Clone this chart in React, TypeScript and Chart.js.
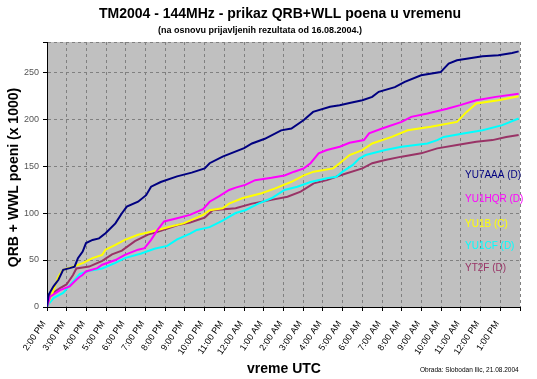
import React, { useEffect, useRef } from 'react';
import { Chart, registerables } from 'chart.js';

Chart.register(...registerables);

const FONT = '"Liberation Sans", Arial, sans-serif';

// x axis: hours since 2:00 PM UTC
const HOUR_LABELS = [
  '2:00 PM', '3:00 PM', '4:00 PM', '5:00 PM', '6:00 PM', '7:00 PM', '8:00 PM', '9:00 PM',
  '10:00 PM', '11:00 PM', '12:00 AM', '1:00 AM', '2:00 AM', '3:00 AM', '4:00 AM', '5:00 AM',
  '6:00 AM', '7:00 AM', '8:00 AM', '9:00 AM', '10:00 AM', '11:00 AM', '12:00 PM', '1:00 PM',
];
const Y_TICKS = [0, 50, 100, 150, 200, 250];

const SERIES_NAMES = ['YU7AAA (D)', 'YU1HQR (D)', 'YU1B (C)', 'YU1CF (D)', 'YT2F (D)'];
const SERIES_COLORS = ['#000080', '#FF00FF', '#FFFF00', '#00FFFF', '#993366'];

const YU7AAA_H = [0, 0.08, 0.33, 0.58, 0.82, 1.15, 1.4, 1.57, 1.81, 1.98, 2.31, 2.64, 2.97, 3.47, 3.8, 4.05, 4.62, 5.03, 5.28, 5.77, 6.6, 7.34, 8.0, 8.25, 8.91, 10.0, 10.4, 11.05, 11.88, 12.4, 13.03, 13.5, 14.36, 14.85, 15.35, 16.0, 16.5, 16.83, 17.65, 18.15, 18.98, 19.97, 20.38, 20.8, 22.1, 22.9, 23.6, 23.93];
const YU7AAA_V = [0, 13, 22, 29, 39.6, 41.4, 43, 52, 59, 68, 71.4, 73, 78.5, 89, 99.8, 106.8, 112, 119, 128, 133, 139, 143, 147.5, 153, 160, 169, 174, 179, 188, 190, 199, 207.6, 213, 214.8, 217, 220, 223.6, 229, 234, 239.5, 246.6, 250, 259, 262.5, 266.8, 267.8, 270.3, 272];

const YU1HQR_H = [0, 0.16, 0.66, 1.15, 1.49, 1.65, 1.8, 1.98, 2.55, 2.8, 3.47, 3.95, 4.62, 4.95, 5.28, 5.61, 5.94, 6.6, 7.25, 7.92, 8.25, 8.74, 9.24, 9.57, 10.06, 10.56, 11.39, 12.05, 12.54, 13.03, 13.37, 13.78, 14.2, 14.85, 15.35, 16.08, 16.34, 17.0, 17.99, 18.48, 19.3, 20.3, 20.96, 21.78, 22.77, 23.93];
const YU1HQR_V = [0, 11, 18, 22, 29, 32, 34, 37.8, 41.4, 45, 50, 55.5, 61, 62.6, 71.4, 82, 91, 94.5, 98, 104, 112, 118, 124.5, 127, 130, 135, 137.6, 140, 144, 147.5, 153, 163.5, 167, 170.5, 174.7, 177.6, 184.7, 190, 197, 202.3, 206, 211, 214.8, 220, 223.6, 227];

const YU1B_H = [0, 0.08, 0.33, 0.58, 0.82, 1.32, 1.81, 2.31, 2.8, 2.97, 3.47, 3.95, 4.62, 5.28, 6.27, 6.93, 7.92, 8.25, 8.91, 9.24, 9.9, 10.89, 11.55, 12.38, 13.03, 13.53, 14.52, 14.85, 15.35, 16.0, 16.5, 17.49, 18.3, 19.47, 20.8, 21.29, 21.78, 22.9, 23.93];
const YU1B_V = [0, 4.5, 18, 32.5, 39.6, 43, 46.7, 52, 55.5, 61, 66, 71.4, 76.8, 80, 85.6, 89, 98, 103, 105, 110, 115.7, 121, 126, 133, 140, 144, 147.5, 153, 161.7, 167, 174, 181, 188, 191.7, 197, 207.6, 216.6, 220, 224.3];

const YU1CF_H = [0, 0.08, 0.33, 0.82, 1.15, 1.49, 1.65, 2.14, 2.8, 3.47, 3.95, 4.78, 5.45, 6.1, 6.6, 7.26, 7.6, 8.25, 8.91, 9.57, 10.06, 10.72, 11.39, 12.05, 12.7, 13.37, 14.2, 14.68, 15.0, 15.5, 15.84, 16.17, 17.16, 17.99, 19.3, 19.8, 20.13, 21.12, 22.1, 23.1, 23.93];
const YU1CF_V = [0, 3, 9.5, 15, 23, 31, 35, 38.5, 41, 47, 52, 57, 62, 65, 72, 78, 82, 85, 92, 100, 103, 110, 115.7, 124.5, 128, 133, 137, 138.6, 144, 151, 158, 161.7, 167, 170.5, 174, 177.6, 181, 184.7, 188, 193.5, 200.6];

const YT2F_H = [0, 0.16, 0.66, 0.99, 1.32, 1.49, 2.14, 2.8, 3.3, 3.8, 4.46, 5.12, 5.77, 6.6, 7.26, 8.0, 8.4, 9.57, 10.4, 11.39, 12.2, 12.87, 13.53, 14.2, 14.85, 16.0, 16.5, 17.16, 17.99, 18.98, 19.8, 20.8, 21.78, 22.6, 23.3, 23.93];
const YT2F_V = [0, 13, 20, 24, 34, 41, 43, 49, 56, 60, 70, 77, 81, 87, 90, 95, 103, 105, 110, 114, 117.4, 122.7, 131.6, 135, 140, 147.5, 153, 156.4, 160, 163.5, 168.8, 172.3, 175.8, 177.6, 181, 183];

const SERIES_H = [YU7AAA_H, YU1HQR_H, YU1B_H, YU1CF_H, YT2F_H];
const SERIES_V = [YU7AAA_V, YU1HQR_V, YU1B_V, YU1CF_V, YT2F_V];

const decor = {
  id: 'decor',
  beforeDraw(chart: any) {
    const { ctx, chartArea: a } = chart;
    ctx.save();
    ctx.fillStyle = '#ffffff';
    ctx.fillRect(0, 0, chart.width, chart.height);
    ctx.fillStyle = '#c0c0c0';
    ctx.fillRect(a.left, a.top, a.right - a.left, a.bottom - a.top);
    ctx.restore();
  },
  afterDraw(chart: any) {
    const { ctx, chartArea: a } = chart;
    ctx.save();
    ctx.fillStyle = '#000';
    ctx.textAlign = 'center';
    ctx.textBaseline = 'middle';
    ctx.font = `bold 14px ${FONT}`;
    ctx.fillText('TM2004 - 144MHz - prikaz QRB+WLL poena u vremenu', 280, 14);
    ctx.font = `bold 9px ${FONT}`;
    ctx.fillText('(na osnovu prijavljenih rezultata od 16.08.2004.)', 260, 31);
    ctx.font = `bold 14px ${FONT}`;
    ctx.fillText('vreme UTC', 284, 369);
    ctx.save();
    ctx.translate(14, (a.top + a.bottom) / 2 + 3);
    ctx.rotate(-Math.PI / 2);
    ctx.fillText('QRB + WWL poeni (x 1000)', 0, 0);
    ctx.restore();
    ctx.textAlign = 'left';
    ctx.font = `6.5px ${FONT}`;
    ctx.fillText('Obrada: Slobodan Ilic, 21.08.2004', 420, 370);
    // legend inside plot
    ctx.font = `10px ${FONT}`;
    const ys = [175, 199.5, 224, 246, 268.5];
    SERIES_NAMES.forEach((n, i) => {
      ctx.fillStyle = SERIES_COLORS[i];
      ctx.fillText(n, 465, ys[i]);
    });
    ctx.restore();
  },
};

export default function App() {
  const ref = useRef<HTMLCanvasElement>(null);
  useEffect(() => {
    document.body.style.margin = '0';
    const datasets = SERIES_NAMES.map((name, i) => ({
      label: name,
      data: SERIES_H[i].map((h, j) => ({ x: h, y: SERIES_V[i][j] })),
      borderColor: SERIES_COLORS[i],
      backgroundColor: SERIES_COLORS[i],
      borderWidth: 2,
      pointRadius: 0,
      tension: 0,
      fill: false,
    }));
    const chart = new Chart(ref.current!, {
      type: 'line',
      data: { datasets },
      options: {
        animation: false,
        responsive: false,
        devicePixelRatio: 1,
        parsing: false,
        layout: { padding: { top: 42, right: 7, left: 0, bottom: 0 } },
        plugins: { legend: { display: false }, tooltip: { enabled: false }, title: { display: false } },
        scales: {
          x: {
            type: 'linear',
            min: 0,
            max: 24,
            afterFit: (s: any) => { s.height = 72; },
            afterBuildTicks: (s: any) => {
              s.ticks = HOUR_LABELS.map((_, i) => ({ value: i })).concat([{ value: 24 }]);
            },
            ticks: {
              autoSkip: false,
              maxRotation: 56,
              minRotation: 56,
              labelOffset: -3,
              padding: 8,
              color: '#000',
              font: { family: FONT, size: 9 },
              callback: (v: any) => (v < 24 ? HOUR_LABELS[v] : ''),
            },
            grid: { color: '#808080', lineWidth: 1, drawTicks: true, tickLength: 4, tickColor: '#000', tickBorderDash: [] },
            border: { display: true, color: '#000', width: 1, dash: [3, 3] },
          },
          y: {
            type: 'linear',
            min: 0,
            max: 282,
            afterFit: (s: any) => { s.width = 47; },
            afterBuildTicks: (s: any) => {
              s.ticks = Y_TICKS.map((v) => ({ value: v })).concat([{ value: 282 }]);
            },
            ticks: {
              padding: 4,
              color: '#555',
              font: { family: FONT, size: 9 },
              callback: (v: any) => (Y_TICKS.includes(v) ? String(v) : ''),
            },
            grid: { color: '#808080', lineWidth: 1, drawTicks: true, tickLength: 4, tickColor: '#000', tickBorderDash: [] },
            border: { display: true, color: '#000', width: 1, dash: [3, 3] },
          },
        },
      },
      plugins: [decor],
    });
    return () => chart.destroy();
  }, []);
  return <canvas ref={ref} width={537} height={379} style={{ display: 'block' }} />;
}
